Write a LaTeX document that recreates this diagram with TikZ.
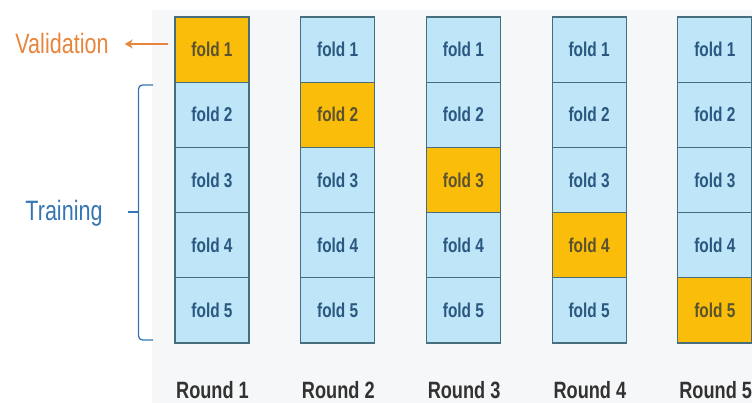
\documentclass[tikz,border=0pt]{standalone}
\usepackage{fontspec}
\setmainfont[FakeStretch=0.77]{Liberation Sans}
\usetikzlibrary{arrows.meta}
\definecolor{foldblue}{RGB}{190,230,248}
\definecolor{foldorange}{RGB}{250,190,10}
\definecolor{foldedge}{RGB}{72,110,125}
\definecolor{foldtext}{RGB}{42,88,128}
\definecolor{valtext}{RGB}{90,82,48}
\definecolor{valorange}{RGB}{232,133,61}
\definecolor{trainblue}{RGB}{52,118,180}
\definecolor{roundgray}{RGB}{50,50,50}
\definecolor{bggray}{RGB}{246,247,248}

\begin{document}
\begin{tikzpicture}[x=1pt,y=-1pt,
	fold/.style={draw=foldedge,line width=1.2pt,fill=foldblue,text=foldtext,minimum width=74pt,minimum height=65.2pt,inner sep=0pt,font=\fontsize{20}{23}\selectfont\bfseries},
	valfold/.style={fold,fill=foldorange,text=valtext},
	roundlbl/.style={anchor=base,inner sep=0pt,text=roundgray,font=\fontsize{23.6}{26}\selectfont\bfseries}]
	\useasboundingbox (0,0) rectangle (752,403);
	\clip (0,0) rectangle (752,403);
	\fill[bggray] (152,10) rectangle (752,403);
	\foreach \r in {1,...,5}{
		\foreach \f in {1,...,5}{
			\ifnum\r=\f\def\st{valfold}\else\def\st{fold}\fi
			\node[\st] (f\r-\f) at ({212+125.7*(\r-1)},{49.6+65.2*(\f-1)}) {fold \f};
		}
		\node[roundlbl] (round\r) at ({212.5+125.8*(\r-1)},398) {Round \r};
	}
	\node[anchor=base,inner sep=0pt,text=valorange,font=\fontsize{28}{32}\selectfont] (valid) at (62,54) {Validation};
	\node[anchor=base,inner sep=0pt,text=trainblue,font=\fontsize{28}{32}\selectfont] (train) at (64,221) {Training};
	\draw[valorange,line width=1.5pt,-{Stealth[length=8pt,width=9pt]}] ([xshift=-6pt]valid.east -| f1-1.west) -- ([xshift=16pt]valid.east);
	\coordinate (btop) at (153,85);
	\coordinate (bbot) at (153,340);
	\coordinate (bmid) at (138.5,212);
	\coordinate (btip) at (128,212);
	\draw[trainblue,line width=1.3pt,rounded corners=4pt] (btop) -- (bmid |- btop) -- (bmid |- bbot) -- (bbot);
	\draw[trainblue,line width=1.3pt] (bmid) -- (btip);
\end{tikzpicture}
\end{document}
